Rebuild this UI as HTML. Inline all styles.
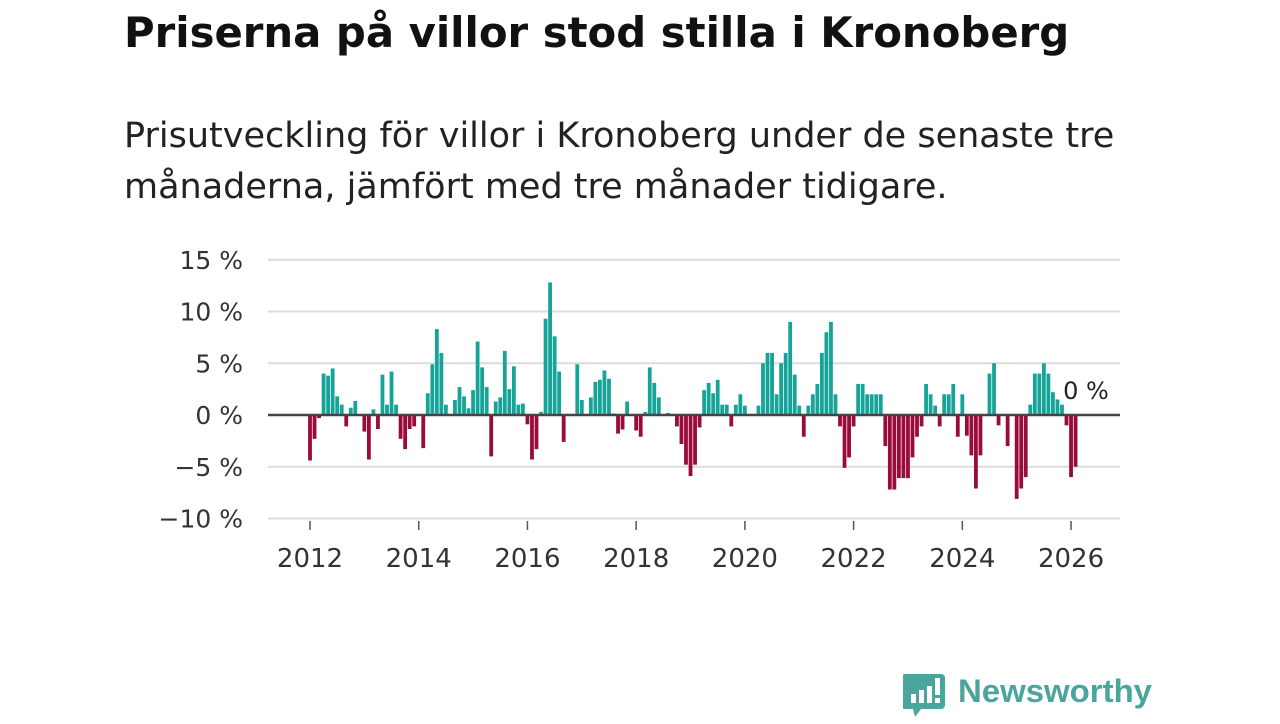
<!DOCTYPE html>
<html><head><meta charset="utf-8">
<style>
body{margin:0;width:1280px;height:720px;background:#fff;font-family:"DejaVu Sans",sans-serif;overflow:hidden;position:relative}
#title{position:absolute;left:124px;top:8px;font-size:41.8px;font-weight:bold;color:#111;margin:0;white-space:nowrap}
#sub{position:absolute;left:124px;top:111px;font-size:35px;line-height:51px;color:#222;margin:0;width:1100px}
#logo{position:absolute;left:903px;top:670px}
</style></head><body>
<h1 id="title">Priserna på villor stod stilla i Kronoberg</h1>
<p id="sub">Prisutveckling för villor i Kronoberg under de senaste tre<br>månaderna, jämfört med tre månader tidigare.</p>
<svg id="chart" width="1280" height="720" style="position:absolute;left:0;top:0"></svg>
<div id="logo">
<svg width="260" height="50"><path d="M2 4 h36 a4 4 0 0 1 4 4 v27 a4 4 0 0 1-4 4 h-20 l-6 8 -2-8 h-8 a4 4 0 0 1-4-4 v-27 a4 4 0 0 1 4-4z" fill="#4aa59c"/>
<rect x="8" y="24" width="5" height="9" fill="#fff"/><rect x="16" y="20" width="5" height="13" fill="#fff"/><rect x="24" y="16" width="5" height="17" fill="#fff"/><rect x="32" y="8" width="5" height="17" fill="#fff"/><rect x="32" y="28" width="5" height="5" fill="#fff"/>
<text x="55" y="32" font-size="32" font-weight="bold" fill="#4aa59c" font-family="Liberation Sans, sans-serif" textLength="194" lengthAdjust="spacingAndGlyphs">Newsworthy</text></svg></div>
<script>
const yTicks=[15,10,5,0,-5,-10];
const xTicks=[2012,2014,2016,2018,2020,2022,2024,2026];
const startYear=2012;
const values=[-4.4,-2.3,-0.3,4.0,3.8,4.5,1.8,1.0,-1.1,0.7,1.35,0,
-1.6,-4.3,0.55,-1.35,3.9,1.0,4.2,1.0,-2.3,-3.3,-1.35,-1.1,
0,-3.2,2.1,4.9,8.3,6.0,1.0,0,1.45,2.7,1.8,0.65,
2.4,7.1,4.6,2.7,-4.0,1.3,1.7,6.2,2.5,4.7,1.0,1.1,
-0.9,-4.3,-3.3,0.3,9.3,12.8,7.6,4.2,-2.6,0.1,0,4.9,
1.45,0,1.7,3.2,3.4,4.3,3.5,0.15,-1.8,-1.4,1.3,0,
-1.5,-2.1,0.3,4.6,3.1,1.7,0,0.2,0,-1.1,-2.8,-4.8,
-5.9,-4.8,-1.2,2.4,3.1,2.1,3.4,1.0,1.0,-1.1,1.0,2.0,
0.9,0,0,0.9,5.0,6.0,6.0,2.0,5.0,6.0,9.0,3.9,
0.9,-2.1,0.9,2.0,3.0,6.0,8.0,9.0,2.0,-1.1,-5.1,-4.1,
-1.1,3.0,3.0,2.0,2.0,2.0,2.0,-3.0,-7.2,-7.2,-6.1,-6.1,
-6.1,-4.1,-2.1,-1.1,3.0,2.0,0.9,-1.1,2.0,2.0,3.0,-2.1,
2.0,-2.0,-3.9,-7.1,-3.9,0,4.0,5.0,-1.0,0,-3.0,0,
-8.1,-7.1,-6.0,1.0,4.0,4.0,5.0,4.0,2.2,1.5,1.0,-1.0,
-6.0,-5.0,0];
const lastLabel="0 %";
const NS="http://www.w3.org/2000/svg";
const svg=document.getElementById('chart');
const L=268,R=1120;
function y(v){return 415-v*10.35;}
function x(m){return 310+m*4.53;}
function mk(t,a){const e=document.createElementNS(NS,t);for(const k in a)e.setAttribute(k,a[k]);svg.appendChild(e);return e;}
yTicks.forEach(t=>{
  if(t!==0){const g=mk('line',{x1:L,x2:R,y1:y(t),y2:y(t),stroke:'#dcdcdc','stroke-width':2});
  
  }
  const tx=mk('text',{x:243,y:y(t)+9,'text-anchor':'end','font-size':25,fill:'#333','font-family':'DejaVu Sans, sans-serif'});
  tx.textContent=(t<0?'\u2212'+(-t):t)+' %';
  
  
});
xTicks.forEach(t=>{
  const xx=x((t-startYear)*12);
  const tk=mk('line',{x1:xx,x2:xx,y1:521,y2:530,stroke:'#555','stroke-width':1.5});
  
  
  const tx=mk('text',{x:xx,y:567,'text-anchor':'middle','font-size':26,fill:'#333','font-family':'DejaVu Sans, sans-serif'});
  tx.textContent=t;
  
  
});
values.forEach((v,i)=>{
  if(v===0)return;
  const xx=x(i);
  const b=mk('rect',{x:xx-1.9,width:3.8,y:Math.min(y(v),y(0)),height:Math.abs(y(v)-y(0)),fill:v>0?'#16a398':'#9a0a3b'});
  
  
});
const z=mk('line',{x1:L,x2:R,y1:y(0),y2:y(0),stroke:'#444','stroke-width':2.5});


const lb=mk('text',{x:x(values.length-1)-17,y:y(0)-16,'font-size':24,fill:'#222','font-family':'DejaVu Sans, sans-serif'});
lb.textContent=lastLabel;


</script>
</body></html>
